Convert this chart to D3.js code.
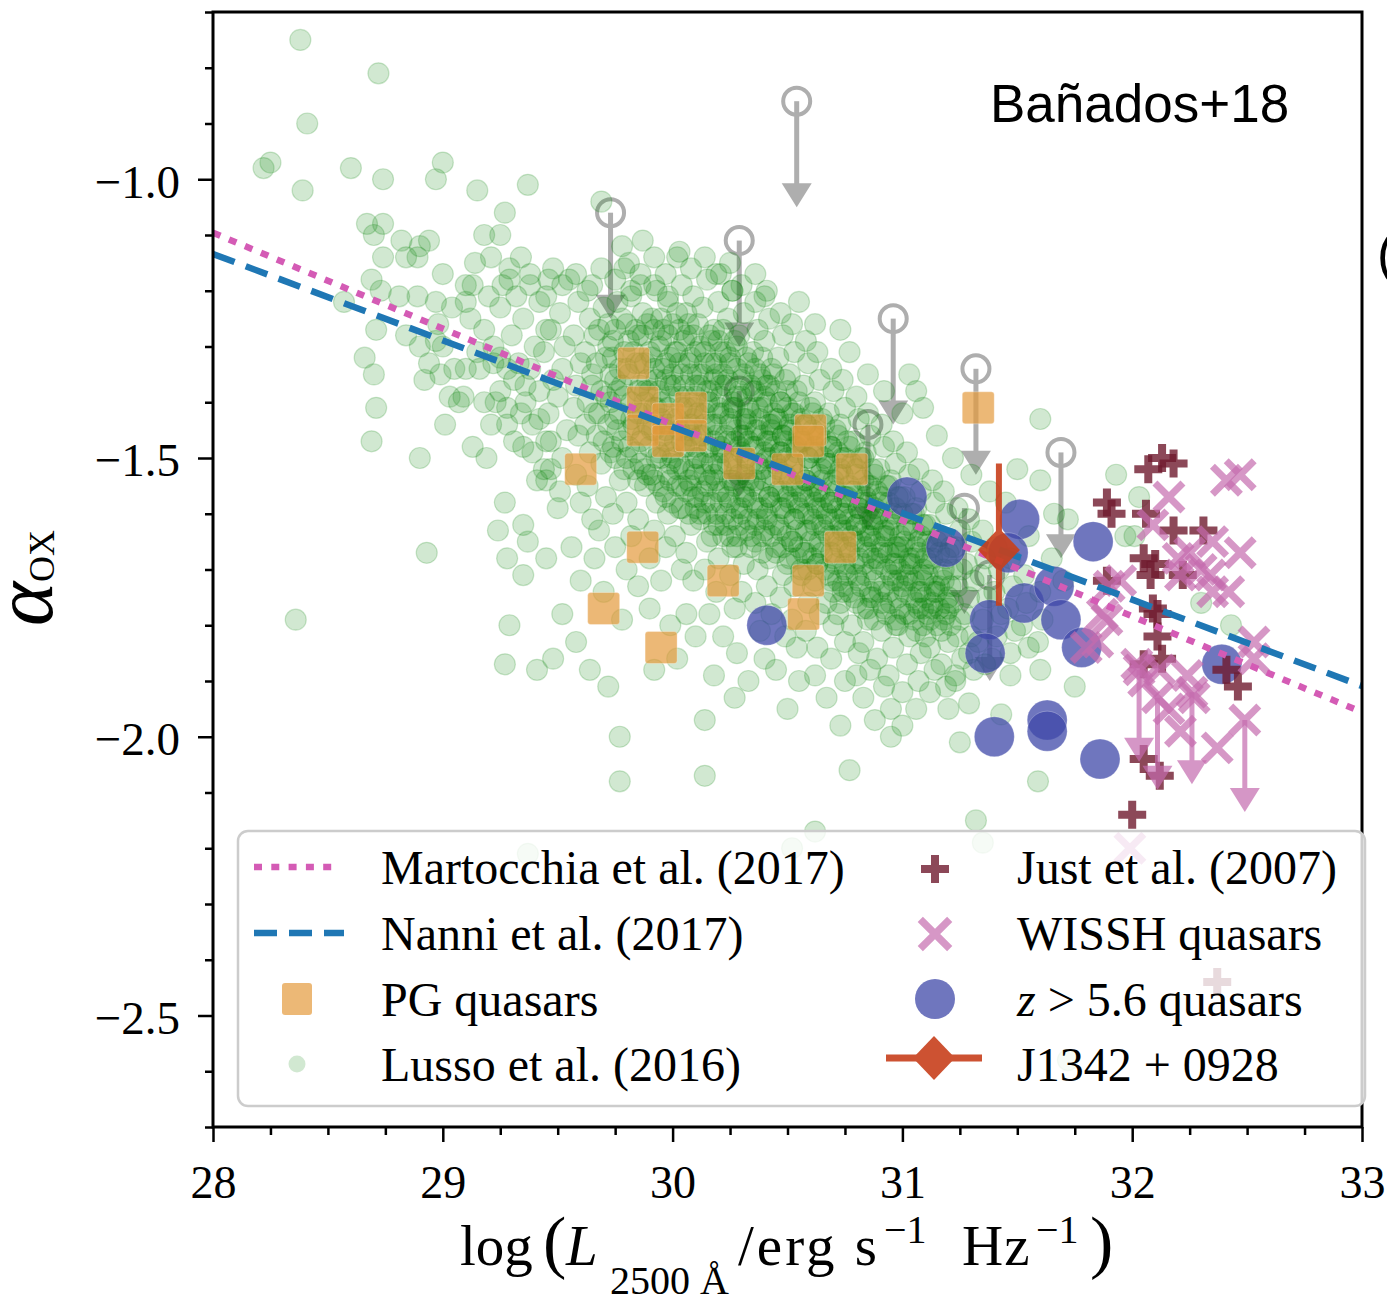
<!DOCTYPE html>
<html>
<head>
<meta charset="utf-8">
<script src="https://cdn.jsdelivr.net/npm/d3@7"></script>
<style>
  body { margin: 0; background: #fff; }
  svg { display: block; }
</style>
</head>
<body>
<svg id="chart" width="1387" height="1303"></svg>
<script>
// ---- data: log L2500 (x) vs alpha_OX (y) ----

// Lusso et al. (2016), light green cloud
const lussoPts = [
  // sparse upper / left
  [28.38,-0.75],[28.72,-0.81],[28.41,-0.90],[28.22,-0.98],[28.25,-0.97],[28.39,-1.02],[28.60,-0.98],[28.74,-1.00],
  [28.97,-1.00],[29.00,-0.97],[29.15,-1.02],[29.37,-1.01],[29.27,-1.06],[29.18,-1.10],[29.25,-1.10],[28.67,-1.08],
  [28.74,-1.08],[28.70,-1.10],[28.82,-1.11],[28.74,-1.14],[28.84,-1.14],[28.89,-1.14],[28.90,-1.12],[28.94,-1.11],
  [29.00,-1.17],[29.14,-1.15],[29.21,-1.14],[29.34,-1.14],[29.29,-1.16],[28.69,-1.18],[29.10,-1.19],[29.13,-1.19],
  [29.26,-1.19],[29.29,-1.18],[29.38,-1.19],[29.46,-1.18],[29.55,-1.18],[29.65,-1.19],
  [29.69,-1.04],[29.78,-1.12],[29.87,-1.11],[30.02,-1.14],[29.79,-1.16],[29.86,-1.17],[29.92,-1.19],[29.98,-1.21],
  [29.82,-1.20],[30.21,-1.17],[30.26,-1.20],[30.36,-1.17],[30.40,-1.21],[30.55,-1.22],[30.62,-1.26],[30.73,-1.27],
  [30.77,-1.31],[30.85,-1.35],[30.92,-1.38],[31.03,-1.35],[31.06,-1.38],[31.09,-1.41],[31.00,-1.42],[31.15,-1.46],
  [31.22,-1.50],[31.30,-1.53],[31.38,-1.56],[31.45,-1.58],[31.50,-1.52],[31.60,-1.43],[31.60,-1.54],[31.66,-1.60],
  [31.72,-1.61],[31.55,-1.64],[31.65,-1.68],[31.70,-1.72],[31.93,-1.53],[32.03,-1.57],[31.97,-1.64],[32.01,-1.64],
  [32.30,-1.76],[32.43,-1.80],
  // left middle
  [28.57,-1.22],[28.73,-1.20],[28.81,-1.21],[28.89,-1.21],[28.97,-1.22],[29.04,-1.23],[28.71,-1.27],[28.84,-1.28],
  [28.66,-1.32],[28.70,-1.35],[28.90,-1.30],[28.97,-1.29],[28.94,-1.33],[28.92,-1.36],[28.99,-1.35],[29.03,-1.39],
  [29.09,-1.39],[29.07,-1.40],[29.01,-1.44],[28.71,-1.41],[28.69,-1.47],[28.90,-1.50],[29.13,-1.48],[29.19,-1.50],
  [29.10,-1.34],[29.16,-1.34],[29.22,-1.33],[29.25,-1.32],[29.28,-1.34],[29.31,-1.36],[29.18,-1.40],[29.23,-1.40],
  [29.25,-1.38],[29.28,-1.41],[29.21,-1.44],[29.28,-1.44],[29.34,-1.42],[29.36,-1.40],[29.31,-1.47],[29.35,-1.48],
  [29.39,-1.44],[29.42,-1.43],[29.47,-1.47],[29.39,-1.49],[29.44,-1.52],[29.41,-1.54],[29.45,-1.54],[29.50,-1.59],
  [29.24,-1.63],[29.35,-1.62],[29.37,-1.65],[29.28,-1.68],[29.35,-1.71],
  [29.12,-1.25],[29.18,-1.27],[29.25,-1.23],[29.30,-1.28],[29.35,-1.25],[29.40,-1.30],[29.45,-1.27],[29.15,-1.31],
  [29.22,-1.30],[29.33,-1.33],[29.38,-1.34],[29.42,-1.38],[29.36,-1.37],[29.00,-1.30],[29.05,-1.34],[28.98,-1.26],
  [29.10,-1.22],[29.20,-1.21],[29.32,-1.21],[29.42,-1.22],[29.38,-1.17],[29.48,-1.16],
  // main cloud
  [29.45,-1.21],[29.47,-1.27],[29.44,-1.31],[29.48,-1.36],[29.46,-1.42],[29.45,-1.47],[29.47,-1.52],
  [29.52,-1.19],[29.51,-1.24],[29.53,-1.30],[29.52,-1.34],[29.50,-1.39],[29.54,-1.45],[29.52,-1.50],[29.51,-1.56],
  [29.58,-1.17],[29.59,-1.22],[29.57,-1.28],[29.60,-1.33],[29.58,-1.37],[29.57,-1.41],[29.59,-1.46],[29.58,-1.53],[29.60,-1.58],
  [29.63,-1.20],[29.64,-1.25],[29.62,-1.31],[29.65,-1.35],[29.63,-1.40],[29.62,-1.44],[29.64,-1.49],[29.63,-1.55],[29.65,-1.61],
  [29.69,-1.16],[29.70,-1.23],[29.68,-1.27],[29.71,-1.32],[29.69,-1.38],[29.68,-1.42],[29.70,-1.47],[29.69,-1.51],[29.71,-1.57],[29.68,-1.63],
  [29.75,-1.18],[29.76,-1.22],[29.74,-1.29],[29.77,-1.34],[29.75,-1.36],[29.73,-1.40],[29.76,-1.45],[29.75,-1.50],[29.77,-1.54],[29.74,-1.60],
  [29.81,-1.15],[29.82,-1.21],[29.80,-1.26],[29.83,-1.31],[29.81,-1.35],[29.79,-1.39],[29.82,-1.43],[29.81,-1.48],[29.83,-1.52],[29.80,-1.58],[29.82,-1.64],
  [29.86,-1.19],[29.87,-1.24],[29.85,-1.28],[29.88,-1.33],[29.86,-1.37],[29.85,-1.42],[29.87,-1.46],[29.86,-1.51],[29.88,-1.55],[29.85,-1.61],
  [29.92,-1.14],[29.93,-1.20],[29.91,-1.25],[29.94,-1.30],[29.92,-1.34],[29.90,-1.38],[29.93,-1.41],[29.92,-1.45],[29.94,-1.49],[29.91,-1.53],[29.93,-1.58],[29.92,-1.63],[29.90,-1.68],
  [29.97,-1.17],[29.98,-1.22],[29.96,-1.27],[29.99,-1.32],[29.97,-1.36],[29.95,-1.40],[29.98,-1.44],[29.97,-1.47],[29.99,-1.51],[29.96,-1.56],[29.98,-1.60],[29.97,-1.66],
  [30.03,-1.13],[30.04,-1.19],[30.02,-1.24],[30.05,-1.29],[30.03,-1.33],[30.01,-1.37],[30.04,-1.41],[30.03,-1.45],[30.05,-1.48],[30.02,-1.52],[30.04,-1.55],[30.03,-1.59],[30.01,-1.64],[30.04,-1.70],
  [30.08,-1.16],[30.09,-1.21],[30.07,-1.26],[30.10,-1.31],[30.08,-1.35],[30.06,-1.39],[30.09,-1.43],[30.08,-1.46],[30.10,-1.50],[30.07,-1.54],[30.09,-1.57],[30.08,-1.62],[30.06,-1.67],[30.09,-1.72],
  [30.14,-1.14],[30.15,-1.18],[30.13,-1.23],[30.16,-1.28],[30.14,-1.33],[30.12,-1.37],[30.15,-1.40],[30.14,-1.44],[30.16,-1.48],[30.13,-1.51],[30.15,-1.55],[30.14,-1.58],[30.12,-1.61],[30.15,-1.65],[30.14,-1.70],
  [30.19,-1.17],[30.20,-1.22],[30.18,-1.27],[30.21,-1.31],[30.19,-1.35],[30.17,-1.38],[30.20,-1.42],[30.19,-1.46],[30.21,-1.49],[30.18,-1.53],[30.20,-1.56],[30.19,-1.60],[30.17,-1.64],[30.20,-1.68],[30.19,-1.74],
  [30.25,-1.15],[30.26,-1.20],[30.24,-1.25],[30.27,-1.29],[30.25,-1.33],[30.23,-1.37],[30.26,-1.41],[30.25,-1.44],[30.27,-1.47],[30.24,-1.51],[30.26,-1.54],[30.25,-1.58],[30.23,-1.62],[30.26,-1.66],[30.25,-1.71],[30.27,-1.77],
  [30.30,-1.19],[30.31,-1.24],[30.29,-1.28],[30.32,-1.32],[30.30,-1.36],[30.28,-1.39],[30.31,-1.43],[30.30,-1.46],[30.32,-1.50],[30.29,-1.53],[30.31,-1.57],[30.30,-1.60],[30.28,-1.64],[30.31,-1.69],[30.30,-1.74],
  [30.36,-1.22],[30.37,-1.27],[30.35,-1.31],[30.38,-1.35],[30.36,-1.38],[30.34,-1.42],[30.37,-1.45],[30.36,-1.48],[30.38,-1.52],[30.35,-1.55],[30.37,-1.59],[30.36,-1.62],[30.34,-1.66],[30.37,-1.70],[30.36,-1.76],[30.38,-1.81],
  [30.41,-1.20],[30.42,-1.25],[30.40,-1.29],[30.43,-1.34],[30.41,-1.37],[30.39,-1.41],[30.42,-1.44],[30.41,-1.47],[30.43,-1.50],[30.40,-1.54],[30.42,-1.57],[30.41,-1.61],[30.39,-1.64],[30.42,-1.68],[30.41,-1.73],[30.43,-1.78],
  [30.47,-1.24],[30.48,-1.28],[30.46,-1.32],[30.49,-1.36],[30.47,-1.40],[30.45,-1.43],[30.48,-1.46],[30.47,-1.49],[30.49,-1.53],[30.46,-1.56],[30.48,-1.59],[30.47,-1.63],[30.45,-1.67],[30.48,-1.71],[30.47,-1.75],[30.49,-1.82],
  [30.52,-1.26],[30.53,-1.31],[30.51,-1.35],[30.54,-1.38],[30.52,-1.42],[30.50,-1.45],[30.53,-1.48],[30.52,-1.51],[30.54,-1.55],[30.51,-1.58],[30.53,-1.61],[30.52,-1.65],[30.50,-1.69],[30.53,-1.73],[30.52,-1.79],[30.54,-1.84],
  [30.58,-1.29],[30.59,-1.33],[30.57,-1.37],[30.60,-1.41],[30.58,-1.44],[30.56,-1.47],[30.59,-1.50],[30.58,-1.54],[30.60,-1.57],[30.57,-1.60],[30.59,-1.63],[30.58,-1.67],[30.56,-1.71],[30.59,-1.76],[30.58,-1.81],
  [30.63,-1.31],[30.64,-1.36],[30.62,-1.40],[30.65,-1.43],[30.63,-1.46],[30.61,-1.49],[30.64,-1.53],[30.63,-1.56],[30.65,-1.59],[30.62,-1.62],[30.64,-1.66],[30.63,-1.69],[30.61,-1.73],[30.64,-1.78],[30.63,-1.84],
  [30.69,-1.34],[30.70,-1.38],[30.68,-1.42],[30.71,-1.45],[30.69,-1.48],[30.67,-1.51],[30.70,-1.55],[30.69,-1.58],[30.71,-1.61],[30.68,-1.64],[30.70,-1.68],[30.69,-1.72],[30.67,-1.76],[30.70,-1.80],[30.69,-1.86],
  [30.74,-1.36],[30.75,-1.41],[30.73,-1.44],[30.76,-1.47],[30.74,-1.50],[30.72,-1.53],[30.75,-1.57],[30.74,-1.60],[30.76,-1.63],[30.73,-1.66],[30.75,-1.70],[30.74,-1.74],[30.72,-1.78],[30.75,-1.83],
  [30.80,-1.39],[30.81,-1.43],[30.79,-1.47],[30.82,-1.50],[30.80,-1.53],[30.78,-1.56],[30.81,-1.59],[30.80,-1.62],[30.82,-1.65],[30.79,-1.69],[30.81,-1.72],[30.80,-1.76],[30.78,-1.80],[30.81,-1.85],[30.80,-1.89],
  [30.85,-1.42],[30.86,-1.46],[30.84,-1.49],[30.87,-1.52],[30.85,-1.55],[30.83,-1.58],[30.86,-1.61],[30.85,-1.64],[30.87,-1.68],[30.84,-1.71],[30.86,-1.75],[30.85,-1.79],[30.83,-1.83],[30.86,-1.88],
  [30.91,-1.44],[30.92,-1.48],[30.90,-1.52],[30.93,-1.55],[30.91,-1.58],[30.89,-1.61],[30.92,-1.64],[30.91,-1.67],[30.93,-1.70],[30.90,-1.74],[30.92,-1.77],[30.91,-1.81],[30.89,-1.86],[30.92,-1.91],
  [30.96,-1.47],[30.97,-1.51],[30.95,-1.54],[30.98,-1.57],[30.96,-1.60],[30.94,-1.63],[30.97,-1.66],[30.96,-1.69],[30.98,-1.72],[30.95,-1.76],[30.97,-1.80],[30.96,-1.84],[30.94,-1.89],
  [31.02,-1.49],[31.03,-1.53],[31.01,-1.57],[31.04,-1.60],[31.02,-1.63],[31.00,-1.66],[31.03,-1.69],[31.02,-1.72],[31.04,-1.75],[31.01,-1.78],[31.03,-1.82],[31.02,-1.87],[31.00,-1.92],
  [31.07,-1.52],[31.08,-1.56],[31.06,-1.59],[31.09,-1.62],[31.07,-1.65],[31.05,-1.68],[31.08,-1.71],[31.07,-1.74],[31.09,-1.77],[31.06,-1.81],[31.08,-1.85],[31.07,-1.90],
  [31.13,-1.54],[31.14,-1.58],[31.12,-1.62],[31.15,-1.65],[31.13,-1.68],[31.11,-1.71],[31.14,-1.74],[31.13,-1.77],[31.15,-1.80],[31.12,-1.84],[31.14,-1.88],
  [31.18,-1.56],[31.19,-1.60],[31.17,-1.64],[31.20,-1.67],[31.18,-1.70],[31.16,-1.73],[31.19,-1.76],[31.18,-1.79],[31.20,-1.83],[31.17,-1.87],[31.19,-1.91],
  [31.24,-1.59],[31.25,-1.63],[31.23,-1.66],[31.26,-1.70],[31.24,-1.73],[31.22,-1.76],[31.25,-1.79],[31.24,-1.82],[31.26,-1.86],[31.23,-1.89],
  [31.29,-1.61],[31.30,-1.65],[31.28,-1.69],[31.31,-1.72],[31.29,-1.75],[31.27,-1.78],[31.30,-1.82],[31.29,-1.85],[31.31,-1.88],
  [31.35,-1.63],[31.36,-1.68],[31.34,-1.71],[31.37,-1.75],[31.35,-1.79],[31.33,-1.83],[31.36,-1.87],
  [31.41,-1.66],[31.42,-1.70],[31.40,-1.74],[31.43,-1.78],[31.41,-1.82],[31.39,-1.86],
  [31.47,-1.68],[31.48,-1.73],[31.46,-1.77],[31.49,-1.81],[31.47,-1.85],
  [31.53,-1.71],[31.54,-1.76],[31.52,-1.80],[31.55,-1.84],
  [31.60,-1.74],[31.61,-1.79],[31.59,-1.83],
  // denser part of the cloud
  [29.72,-1.26],[29.72,-1.30],[29.73,-1.35],[29.71,-1.39],[29.72,-1.44],[29.73,-1.49],
  [29.78,-1.25],[29.79,-1.31],[29.78,-1.37],[29.77,-1.42],[29.78,-1.47],[29.79,-1.52],
  [29.84,-1.27],[29.84,-1.33],[29.85,-1.38],[29.83,-1.44],[29.84,-1.49],[29.85,-1.54],
  [29.89,-1.26],[29.90,-1.31],[29.89,-1.36],[29.88,-1.40],[29.89,-1.44],[29.90,-1.48],[29.89,-1.53],
  [29.95,-1.25],[29.95,-1.29],[29.96,-1.34],[29.94,-1.38],[29.95,-1.43],[29.96,-1.46],[29.95,-1.50],[29.94,-1.55],
  [30.00,-1.26],[30.01,-1.31],[30.00,-1.35],[29.99,-1.39],[30.00,-1.43],[30.01,-1.47],[30.00,-1.50],[29.99,-1.54],[30.00,-1.58],
  [30.06,-1.24],[30.06,-1.28],[30.07,-1.33],[30.05,-1.37],[30.06,-1.41],[30.07,-1.45],[30.06,-1.48],[30.05,-1.52],[30.06,-1.56],[30.07,-1.60],
  [30.11,-1.26],[30.12,-1.30],[30.11,-1.35],[30.10,-1.39],[30.11,-1.42],[30.12,-1.46],[30.11,-1.50],[30.10,-1.53],[30.11,-1.57],[30.12,-1.60],
  [30.17,-1.29],[30.17,-1.33],[30.18,-1.36],[30.16,-1.40],[30.17,-1.44],[30.18,-1.47],[30.17,-1.51],[30.16,-1.54],[30.17,-1.58],[30.18,-1.62],
  [30.22,-1.27],[30.23,-1.31],[30.22,-1.35],[30.21,-1.39],[30.22,-1.42],[30.23,-1.46],[30.22,-1.49],[30.21,-1.52],[30.22,-1.56],[30.23,-1.60],[30.22,-1.64],
  [30.28,-1.30],[30.28,-1.34],[30.29,-1.38],[30.27,-1.41],[30.28,-1.45],[30.29,-1.48],[30.28,-1.52],[30.27,-1.55],[30.28,-1.59],[30.29,-1.62],[30.28,-1.66],
  [30.33,-1.33],[30.34,-1.37],[30.33,-1.41],[30.32,-1.44],[30.33,-1.47],[30.34,-1.51],[30.33,-1.54],[30.32,-1.57],[30.33,-1.61],[30.34,-1.64],
  [30.39,-1.32],[30.39,-1.36],[30.40,-1.39],[30.38,-1.43],[30.39,-1.46],[30.40,-1.49],[30.39,-1.52],[30.38,-1.56],[30.39,-1.59],[30.40,-1.63],[30.39,-1.67],
  [30.44,-1.35],[30.45,-1.38],[30.44,-1.42],[30.43,-1.45],[30.44,-1.48],[30.45,-1.51],[30.44,-1.55],[30.43,-1.58],[30.44,-1.62],[30.45,-1.66],
  [30.50,-1.38],[30.50,-1.41],[30.51,-1.44],[30.49,-1.47],[30.50,-1.50],[30.51,-1.54],[30.50,-1.57],[30.49,-1.60],[30.50,-1.64],[30.51,-1.68],
  [30.55,-1.40],[30.56,-1.43],[30.55,-1.46],[30.54,-1.49],[30.55,-1.53],[30.56,-1.56],[30.55,-1.59],[30.54,-1.63],[30.55,-1.66],[30.56,-1.70],
  [30.61,-1.42],[30.61,-1.45],[30.62,-1.48],[30.60,-1.52],[30.61,-1.55],[30.62,-1.58],[30.61,-1.61],[30.60,-1.65],[30.61,-1.68],[30.62,-1.72],
  [30.66,-1.44],[30.67,-1.47],[30.66,-1.50],[30.65,-1.54],[30.66,-1.57],[30.67,-1.60],[30.66,-1.63],[30.65,-1.67],[30.66,-1.70],
  [30.72,-1.46],[30.72,-1.49],[30.73,-1.52],[30.71,-1.56],[30.72,-1.59],[30.73,-1.62],[30.72,-1.65],[30.71,-1.69],[30.72,-1.72],[30.73,-1.76],
  [30.77,-1.48],[30.78,-1.51],[30.77,-1.55],[30.76,-1.58],[30.77,-1.61],[30.78,-1.64],[30.77,-1.67],[30.76,-1.71],[30.77,-1.74],
  [30.83,-1.50],[30.83,-1.54],[30.84,-1.57],[30.82,-1.60],[30.83,-1.63],[30.84,-1.66],[30.83,-1.69],[30.82,-1.73],[30.83,-1.77],
  [30.88,-1.53],[30.89,-1.56],[30.88,-1.59],[30.87,-1.62],[30.88,-1.65],[30.89,-1.68],[30.88,-1.72],[30.87,-1.75],[30.88,-1.79],
  [30.94,-1.55],[30.94,-1.58],[30.95,-1.61],[30.93,-1.64],[30.94,-1.67],[30.95,-1.71],[30.94,-1.74],[30.93,-1.78],
  [30.99,-1.57],[31.00,-1.60],[30.99,-1.64],[30.98,-1.67],[30.99,-1.70],[31.00,-1.73],[30.99,-1.77],[30.98,-1.80],
  [31.05,-1.60],[31.05,-1.63],[31.06,-1.66],[31.04,-1.69],[31.05,-1.72],[31.06,-1.76],[31.05,-1.79],
  [31.10,-1.62],[31.11,-1.65],[31.10,-1.68],[31.09,-1.72],[31.10,-1.75],[31.11,-1.78],[31.10,-1.82],
  [31.16,-1.64],[31.16,-1.67],[31.17,-1.71],[31.15,-1.74],[31.16,-1.77],[31.17,-1.81],
  [31.21,-1.66],[31.22,-1.70],[31.21,-1.73],[31.20,-1.77],[31.21,-1.80],
  // densest ridge
  [29.66,-1.28],[29.67,-1.33],[29.65,-1.37],[29.66,-1.42],[29.67,-1.46],
  [29.75,-1.27],[29.74,-1.32],[29.76,-1.38],[29.75,-1.43],[29.74,-1.48],
  [29.81,-1.29],[29.80,-1.34],[29.82,-1.40],[29.81,-1.45],[29.80,-1.50],
  [29.87,-1.28],[29.86,-1.33],[29.88,-1.38],[29.87,-1.42],[29.86,-1.47],[29.88,-1.52],
  [29.92,-1.27],[29.91,-1.32],[29.93,-1.36],[29.92,-1.41],[29.91,-1.45],[29.93,-1.50],[29.92,-1.54],
  [29.98,-1.28],[29.97,-1.33],[29.99,-1.37],[29.98,-1.41],[29.97,-1.45],[29.99,-1.49],[29.98,-1.53],[29.97,-1.57],
  [30.03,-1.27],[30.02,-1.31],[30.04,-1.35],[30.03,-1.39],[30.02,-1.43],[30.04,-1.47],[30.03,-1.51],[30.02,-1.55],[30.04,-1.59],
  [30.09,-1.28],[30.08,-1.32],[30.10,-1.37],[30.09,-1.41],[30.08,-1.44],[30.10,-1.48],[30.09,-1.52],[30.08,-1.55],[30.10,-1.59],
  [30.14,-1.31],[30.13,-1.35],[30.15,-1.38],[30.14,-1.42],[30.13,-1.46],[30.15,-1.49],[30.14,-1.53],[30.13,-1.56],[30.15,-1.60],
  [30.20,-1.29],[30.19,-1.33],[30.21,-1.37],[30.20,-1.41],[30.19,-1.44],[30.21,-1.48],[30.20,-1.51],[30.19,-1.54],[30.21,-1.58],[30.20,-1.62],
  [30.25,-1.32],[30.24,-1.36],[30.26,-1.40],[30.25,-1.43],[30.24,-1.47],[30.26,-1.50],[30.25,-1.54],[30.24,-1.57],[30.26,-1.61],[30.25,-1.64],
  [30.31,-1.35],[30.30,-1.39],[30.32,-1.43],[30.31,-1.46],[30.30,-1.49],[30.32,-1.53],[30.31,-1.56],[30.30,-1.59],[30.32,-1.63],
  [30.36,-1.34],[30.35,-1.38],[30.37,-1.41],[30.36,-1.45],[30.35,-1.48],[30.37,-1.51],[30.36,-1.54],[30.35,-1.58],[30.37,-1.61],[30.36,-1.65],
  [30.42,-1.37],[30.41,-1.40],[30.43,-1.44],[30.42,-1.47],[30.41,-1.50],[30.43,-1.53],[30.42,-1.57],[30.41,-1.60],[30.43,-1.64],
  [30.47,-1.40],[30.46,-1.43],[30.48,-1.46],[30.47,-1.49],[30.46,-1.52],[30.48,-1.56],[30.47,-1.59],[30.46,-1.62],[30.48,-1.66],
  [30.53,-1.42],[30.52,-1.45],[30.54,-1.48],[30.53,-1.51],[30.52,-1.55],[30.54,-1.58],[30.53,-1.61],[30.52,-1.65],[30.54,-1.68],
  [30.58,-1.44],[30.57,-1.47],[30.59,-1.50],[30.58,-1.54],[30.57,-1.57],[30.59,-1.60],[30.58,-1.63],[30.57,-1.67],[30.59,-1.70],
  [30.64,-1.46],[30.63,-1.49],[30.65,-1.52],[30.64,-1.56],[30.63,-1.59],[30.65,-1.62],[30.64,-1.65],[30.63,-1.69],
  [30.69,-1.48],[30.68,-1.51],[30.70,-1.54],[30.69,-1.58],[30.68,-1.61],[30.70,-1.64],[30.69,-1.67],[30.68,-1.71],[30.70,-1.74],
  [30.75,-1.50],[30.74,-1.53],[30.76,-1.57],[30.75,-1.60],[30.74,-1.63],[30.76,-1.66],[30.75,-1.69],[30.74,-1.73],
  [30.80,-1.52],[30.79,-1.56],[30.81,-1.59],[30.80,-1.62],[30.79,-1.65],[30.81,-1.68],[30.80,-1.71],[30.79,-1.75],
  [30.86,-1.55],[30.85,-1.58],[30.87,-1.61],[30.86,-1.64],[30.85,-1.67],[30.87,-1.70],[30.86,-1.74],[30.85,-1.77],
  [30.91,-1.57],[30.90,-1.60],[30.92,-1.63],[30.91,-1.66],[30.90,-1.69],[30.92,-1.73],[30.91,-1.76],
  [30.97,-1.59],[30.96,-1.62],[30.98,-1.66],[30.97,-1.69],[30.96,-1.72],[30.98,-1.75],[30.97,-1.79],
  [31.02,-1.62],[31.01,-1.65],[31.03,-1.68],[31.02,-1.71],[31.01,-1.74],[31.03,-1.78],
  [31.08,-1.64],[31.07,-1.67],[31.09,-1.70],[31.08,-1.74],[31.07,-1.77],[31.09,-1.80],
  [31.13,-1.66],[31.12,-1.69],[31.14,-1.73],[31.13,-1.76],[31.12,-1.79],
  [31.19,-1.68],[31.18,-1.72],[31.20,-1.75],[31.19,-1.78],
  // lower halo and outliers
  [29.56,-1.66],[29.45,-1.68],[29.60,-1.72],[29.52,-1.78],[29.66,-1.68],[29.70,-1.74],[29.58,-1.83],[29.64,-1.88],
  [29.48,-1.86],[29.75,-1.66],[29.80,-1.70],[29.85,-1.73],[29.78,-1.79],[29.90,-1.77],[29.95,-1.72],[29.99,-1.80],
  [30.06,-1.78],[30.02,-1.86],[30.10,-1.82],[30.16,-1.78],[30.22,-1.82],[30.18,-1.89],[30.28,-1.85],[30.33,-1.90],
  [30.40,-1.86],[30.45,-1.88],[30.55,-1.90],[30.50,-1.95],[30.62,-1.89],[30.67,-1.93],[30.75,-1.90],[30.73,-1.98],
  [30.83,-1.93],[30.88,-1.97],[30.95,-1.95],[31.00,-1.98],[31.06,-1.95],[31.12,-1.92],[31.20,-1.95],[29.92,-1.88],
  [29.72,-1.91],[29.77,-2.00],[29.77,-2.08],[30.14,-1.97],[30.14,-2.07],[30.27,-1.93],[30.77,-2.06],[30.95,-2.00],
  [31.25,-2.01],[31.32,-2.15],[31.35,-2.19],[31.59,-2.08],[31.43,-1.96],[31.23,-1.90],[31.29,-1.94],[31.47,-1.89],
  [31.60,-1.88],[31.75,-1.91],[29.27,-1.87],[29.41,-1.88],[29.29,-1.80],[28.36,-1.79],[28.93,-1.67],[29.27,-1.58],
  [30.62,-2.17],[30.52,-2.20],[29.37,-2.21],[31.72,-2.58]
]

// PG quasars (orange squares)
const pgX = [29.83, 29.87, 29.87, 29.98, 29.98, 30.08, 30.08, 29.60, 30.29, 30.60, 30.59,
             30.50, 30.78, 29.87, 30.73, 30.22, 30.59, 30.57, 29.70, 29.95, 31.33]
const pgY = [-1.33, -1.40, -1.45, -1.43, -1.47, -1.41, -1.46, -1.52, -1.51, -1.45, -1.47,
             -1.52, -1.52, -1.66, -1.66, -1.72, -1.72, -1.78, -1.77, -1.84, -1.41]

// grey upper limits (open circles with arrows)
const limX = [29.73, 30.29, 30.54, 30.96, 31.32, 31.69, 30.29, 30.85, 31.27, 31.38]
const limY = [-1.06, -1.11, -0.86, -1.25, -1.34, -1.49, -1.38, -1.44, -1.59, -1.71]
const limArrow = 0.19

// z > 5.6 quasars
const hizX = [30.41, 31.02, 31.19, 31.51, 31.46, 31.83, 31.53, 31.66, 31.69, 31.38, 31.36,
              31.78, 31.40, 31.63, 31.63, 31.86, 32.39]
const hizY = [-1.80, -1.57, -1.66, -1.61, -1.67, -1.65, -1.76, -1.73, -1.79, -1.79, -1.85,
              -1.84, -2.00, -1.97, -1.99, -2.04, -1.87]

// Just et al. (2007)
const justX = [32.07, 32.13, 32.18, 31.89, 31.91, 32.06, 32.18, 32.31, 32.05, 32.10, 32.08, 32.22,
               31.89, 32.09, 32.11, 32.11, 32.13, 32.05, 32.41, 32.46, 32.05, 32.12, 32.00, 32.37]
const justY = [-1.52, -1.50, -1.51, -1.58, -1.60, -1.60, -1.63, -1.63, -1.68, -1.69, -1.71, -1.71,
               -1.72, -1.77, -1.78, -1.82, -1.86, -1.87, -1.88, -1.91, -2.04, -2.07, -2.14, -2.44]

// WISSH quasars, detections and upper limits
const wisshX = [32.41, 32.47, 32.16, 32.09, 32.35, 32.47, 32.20, 32.25, 32.30, 32.21, 32.42, 32.35,
                31.90, 31.87, 31.85, 32.53, 32.02, 32.12, 32.05, 32.24, 32.16, 32.27, 32.21, 32.37,
                31.99, 31.95, 31.89, 32.34, 31.80, 32.53]
const wisshY = [-1.54, -1.53, -1.57, -1.62, -1.65, -1.67, -1.68, -1.67, -1.70, -1.71, -1.74, -1.74,
                -1.73, -1.78, -1.83, -1.83, -1.87, -1.88, -1.90, -1.89, -1.95, -1.93, -1.99, -2.02,
                -2.20, -1.72, -1.79, -1.71, -1.84, -1.86]
const wisshLimX = [32.03, 32.11, 32.26, 32.49]
const wisshLimY = [-1.88, -1.93, -1.92, -1.97]
const wisshArrow = 0.165

// J1342+0928 with asymmetric error
const jX = [31.42]
const jY = [-1.665]
const jErr = [[0.10, 0.155]]   // [down, up]

// fitted relations: alpha = slope * logL + intercept
const fitNames = ['Martocchia et al. (2017)', 'Nanni et al. (2017)']
const fitSlope = [-0.172, -0.155]
const fitIntercept = [3.72, 3.206]

const xTicks = [28, 29, 30, 31, 32, 33]
const yTicks = [-2.5, -2.0, -1.5, -1.0]

// ---- drawing ----
const serif = '"Liberation Serif", "Times New Roman", serif'
const sans = '"Liberation Sans", Arial, sans-serif'

const cGreen = '#008000'
const cOrange = '#e49a3c'
const cBlue = '#3f48a8'
const cJust = '#6f1a2e'
const cWissh = '#c46bae'
const cGrey = '#9a9a9a'
const cRed = '#c8401c'
const cPink = '#d45bb5'
const cNanni = '#1f77b4'

const L = 213, R = 1362, T = 12, B = 1127
const x = d3.scaleLinear().domain([28, 33]).range([L, R])
const y = d3.scaleLinear().domain([-2.7, -0.7]).range([B, T])

const svg = d3.select('#chart')
svg.append('defs').append('clipPath').attr('id', 'clip')
    .append('rect').attr('x', L).attr('y', T).attr('width', R - L).attr('height', B - T)

const plot = svg.append('g').attr('clip-path', 'url(#clip)')

const plusPath = 'M-14,0H14M0,-14V14'
const crossPath = 'M-14,-14L14,14M-14,14L14,-14'
const headPath = 'M-15,0L15,0L0,24Z'

function upperLimit(g, px, py, tipY, color, opacity) {
    let m = g.append('g').attr('opacity', opacity)
    m.append('line')
        .attr('x1', px).attr('x2', px)
        .attr('y1', py).attr('y2', tipY - 22)
        .attr('stroke', color).attr('stroke-width', 5)
    m.append('path')
        .attr('d', headPath)
        .attr('transform', `translate(${px},${tipY - 24})`)
        .attr('fill', color)
    return m
}

// grey upper limits
const limG = plot.append('g')
limX.forEach((d, i) => {
    let m = upperLimit(limG, x(d), y(limY[i]), y(limY[i] - limArrow), cGrey, 0.8)
    m.append('circle')
        .attr('cx', x(d)).attr('cy', y(limY[i])).attr('r', 13.5)
        .attr('fill', 'none').attr('stroke', cGrey).attr('stroke-width', 4)
})

// Lusso cloud
plot.append('g').selectAll('circle')
    .data(lussoPts)
    .join('circle')
    .attr('cx', d => x(d[0]))
    .attr('cy', d => y(d[1]))
    .attr('r', 10.5)
    .attr('fill', cGreen).attr('fill-opacity', 0.18)
    .attr('stroke', cGreen).attr('stroke-opacity', 0.2).attr('stroke-width', 1.2)

// PG squares
plot.append('g').selectAll('rect')
    .data(pgX)
    .join('rect')
    .attr('x', (d, i) => x(d) - 16)
    .attr('y', (d, i) => y(pgY[i]) - 16)
    .attr('width', 32).attr('height', 32).attr('rx', 3)
    .attr('fill', cOrange).attr('fill-opacity', 0.7)
    .attr('stroke', '#fff').attr('stroke-opacity', 0.3).attr('stroke-width', 1)

// z > 5.6 quasars
plot.append('g').selectAll('circle')
    .data(hizX)
    .join('circle')
    .attr('cx', d => x(d))
    .attr('cy', (d, i) => y(hizY[i]))
    .attr('r', 20)
    .attr('fill', cBlue).attr('fill-opacity', 0.75)
    .attr('stroke', '#fff').attr('stroke-opacity', 0.25).attr('stroke-width', 1)

// Just et al.
plot.append('g').selectAll('path')
    .data(justX)
    .join('path')
    .attr('d', plusPath)
    .attr('transform', (d, i) => `translate(${x(d)},${y(justY[i])})`)
    .attr('fill', 'none').attr('stroke', cJust).attr('stroke-width', 8)
    .attr('stroke-opacity', 0.8)

// WISSH
const wG = plot.append('g')
wisshLimX.forEach((d, i) => {
    upperLimit(wG, x(d), y(wisshLimY[i]), y(wisshLimY[i] - wisshArrow), cWissh, 0.7)
})
wG.selectAll('path.x')
    .data(wisshX.map((d, i) => [d, wisshY[i]]).concat(wisshLimX.map((d, i) => [d, wisshLimY[i]])))
    .join('path')
    .attr('class', 'x')
    .attr('d', crossPath)
    .attr('transform', d => `translate(${x(d[0])},${y(d[1])})`)
    .attr('fill', 'none').attr('stroke', cWissh).attr('stroke-width', 7)
    .attr('stroke-opacity', 0.7)

// fit lines
const fitStyle = [{color: cPink, dash: '8,9.3'}, {color: cNanni, dash: '23,12'}]
fitNames.forEach((name, i) => {
    let line = d3.line().x(d => x(d)).y(d => y(fitSlope[i] * d + fitIntercept[i]))
    plot.append('path')
        .attr('d', line([28, 33]))
        .attr('fill', 'none')
        .attr('stroke', fitStyle[i].color)
        .attr('stroke-width', 6.5)
        .attr('stroke-dasharray', fitStyle[i].dash)
})

// J1342+0928
const diamond = 'M0,-22L21,0L0,22L-21,0Z'
jX.forEach((d, i) => {
    let g = plot.append('g').attr('opacity', 0.9)
    g.append('line')
        .attr('x1', x(d)).attr('x2', x(d))
        .attr('y1', y(jY[i] + jErr[i][1])).attr('y2', y(jY[i] - jErr[i][0]))
        .attr('stroke', cRed).attr('stroke-width', 6)
    g.append('path')
        .attr('d', diamond)
        .attr('transform', `translate(${x(d)},${y(jY[i])})`)
        .attr('fill', cRed)
})

// ---- axes ----
const fmt = d3.format('.1f')
const yAxis = svg.append('g').attr('transform', `translate(${L},0)`)
    .call(d3.axisLeft(y).tickValues(yTicks).tickSize(15).tickPadding(18).tickFormat(fmt))
yAxis.append('g')
    .call(d3.axisLeft(y).tickValues(d3.range(-2.7, -0.65, 0.1).filter(v => Math.abs(v * 2 - Math.round(v * 2)) > 0.01))
        .tickSize(8).tickFormat(''))

const xAxis = svg.append('g').attr('transform', `translate(0,${B})`)
    .call(d3.axisBottom(x).tickValues(xTicks).tickSize(15).tickPadding(23).tickFormat(d3.format('d')))
xAxis.append('g')
    .call(d3.axisBottom(x).tickValues(d3.range(28.25, 33, 0.25).filter(v => v % 1 !== 0)).tickSize(8).tickFormat(''))

svg.selectAll('.domain').remove()
svg.selectAll('.tick line').attr('stroke', '#000').attr('stroke-width', 2.5)
yAxis.selectAll('text').attr('font-family', serif).attr('font-size', 47).attr('dy', '0.38em').attr('fill', '#000')
xAxis.selectAll('text').attr('font-family', serif).attr('font-size', 46).attr('fill', '#000')

// frame
svg.append('rect')
    .attr('x', L).attr('y', T).attr('width', R - L).attr('height', B - T)
    .attr('fill', 'none').attr('stroke', '#000').attr('stroke-width', 3)

// axis labels
const xl = svg.append('text')
    .attr('y', 1265)
    .attr('font-family', serif).attr('font-size', 57)
xl.append('tspan').attr('x', 460).text('log')
xl.append('tspan').attr('x', 543).attr('font-size', 70).text('(')
xl.append('tspan').attr('x', 566).attr('font-style', 'italic').text('L')
xl.append('tspan').attr('x', 610).attr('font-size', 40).attr('dy', 29).text('2500 Å')
xl.append('tspan').attr('x', 738).attr('dy', -29).attr('letter-spacing', 3).text('/erg s')
xl.append('tspan').attr('x', 884).attr('font-size', 40).attr('dy', -22).text('−1')
xl.append('tspan').attr('x', 962).attr('dy', 22).attr('letter-spacing', 1).text('Hz')
xl.append('tspan').attr('x', 1036).attr('font-size', 40).attr('dy', -22).text('−1')
xl.append('tspan').attr('x', 1090).attr('font-size', 70).attr('dy', 22).text(')')

const yl = svg.append('text')
    .attr('transform', 'translate(52,626) rotate(-90)')
    .attr('font-family', serif)
yl.append('tspan').attr('font-size', 84).attr('font-style', 'italic').text('α')
yl.append('tspan').attr('font-size', 36).attr('dy', 2).text('OX')

svg.append('text')
    .attr('x', 990).attr('y', 122)
    .attr('font-family', sans).attr('font-size', 53)
    .text('Bañados+18')
svg.append('text')
    .attr('x', 1377).attr('y', 272)
    .attr('font-family', sans).attr('font-size', 53)
    .text('(')

// ---- legend ----
const leg = svg.append('g')
leg.append('rect')
    .attr('x', 238).attr('y', 831).attr('width', 1127).attr('height', 275).attr('rx', 10)
    .attr('fill', '#fff').attr('fill-opacity', 0.8)
    .attr('stroke', '#cccccc').attr('stroke-width', 2.5)

const rowY = [867, 933, 999, 1064]
const col1 = 297, col2 = 935
const legText = (tx, ty) => leg.append('text')
    .attr('x', tx).attr('y', ty + 17)
    .attr('font-family', serif).attr('font-size', 48)

fitNames.forEach((name, i) => {
    leg.append('line')
        .attr('x1', 254).attr('x2', i === 0 ? 338 : 344)
        .attr('y1', rowY[i]).attr('y2', rowY[i])
        .attr('stroke', fitStyle[i].color).attr('stroke-width', 6.5)
        .attr('stroke-dasharray', fitStyle[i].dash)
    legText(381, rowY[i]).text(name)
})

leg.append('rect')
    .attr('x', col1 - 15).attr('y', rowY[2] - 16).attr('width', 30).attr('height', 32).attr('rx', 3)
    .attr('fill', cOrange).attr('fill-opacity', 0.7)
legText(381, rowY[2]).text('PG quasars')

leg.append('circle')
    .attr('cx', col1).attr('cy', rowY[3]).attr('r', 8.5)
    .attr('fill', cGreen).attr('fill-opacity', 0.18)
legText(381, rowY[3]).text('Lusso et al. (2016)')

leg.append('path').attr('d', plusPath)
    .attr('transform', `translate(${col2},${rowY[0] + 2})`)
    .attr('fill', 'none').attr('stroke', cJust).attr('stroke-width', 8).attr('stroke-opacity', 0.8)
legText(1017, rowY[0]).text('Just et al. (2007)')

leg.append('path').attr('d', crossPath)
    .attr('transform', `translate(${col2},${rowY[1] + 1}) scale(1.05)`)
    .attr('fill', 'none').attr('stroke', cWissh).attr('stroke-width', 7).attr('stroke-opacity', 0.7)
legText(1017, rowY[1]).text('WISSH quasars')

leg.append('circle')
    .attr('cx', col2).attr('cy', rowY[2]).attr('r', 20)
    .attr('fill', cBlue).attr('fill-opacity', 0.75)
const zt = legText(1017, rowY[2])
zt.append('tspan').attr('font-style', 'italic').text('z')
zt.append('tspan').text(' > 5.6 quasars')

const jl = leg.append('g').attr('opacity', 0.9)
jl.append('line')
    .attr('x1', 886).attr('x2', 982).attr('y1', rowY[3] - 6).attr('y2', rowY[3] - 6)
    .attr('stroke', cRed).attr('stroke-width', 7)
jl.append('path').attr('d', diamond)
    .attr('transform', `translate(${col2 - 1},${rowY[3] - 6})`)
    .attr('fill', cRed)
legText(1017, rowY[3]).text('J1342 + 0928')
</script>
</body>
</html>
